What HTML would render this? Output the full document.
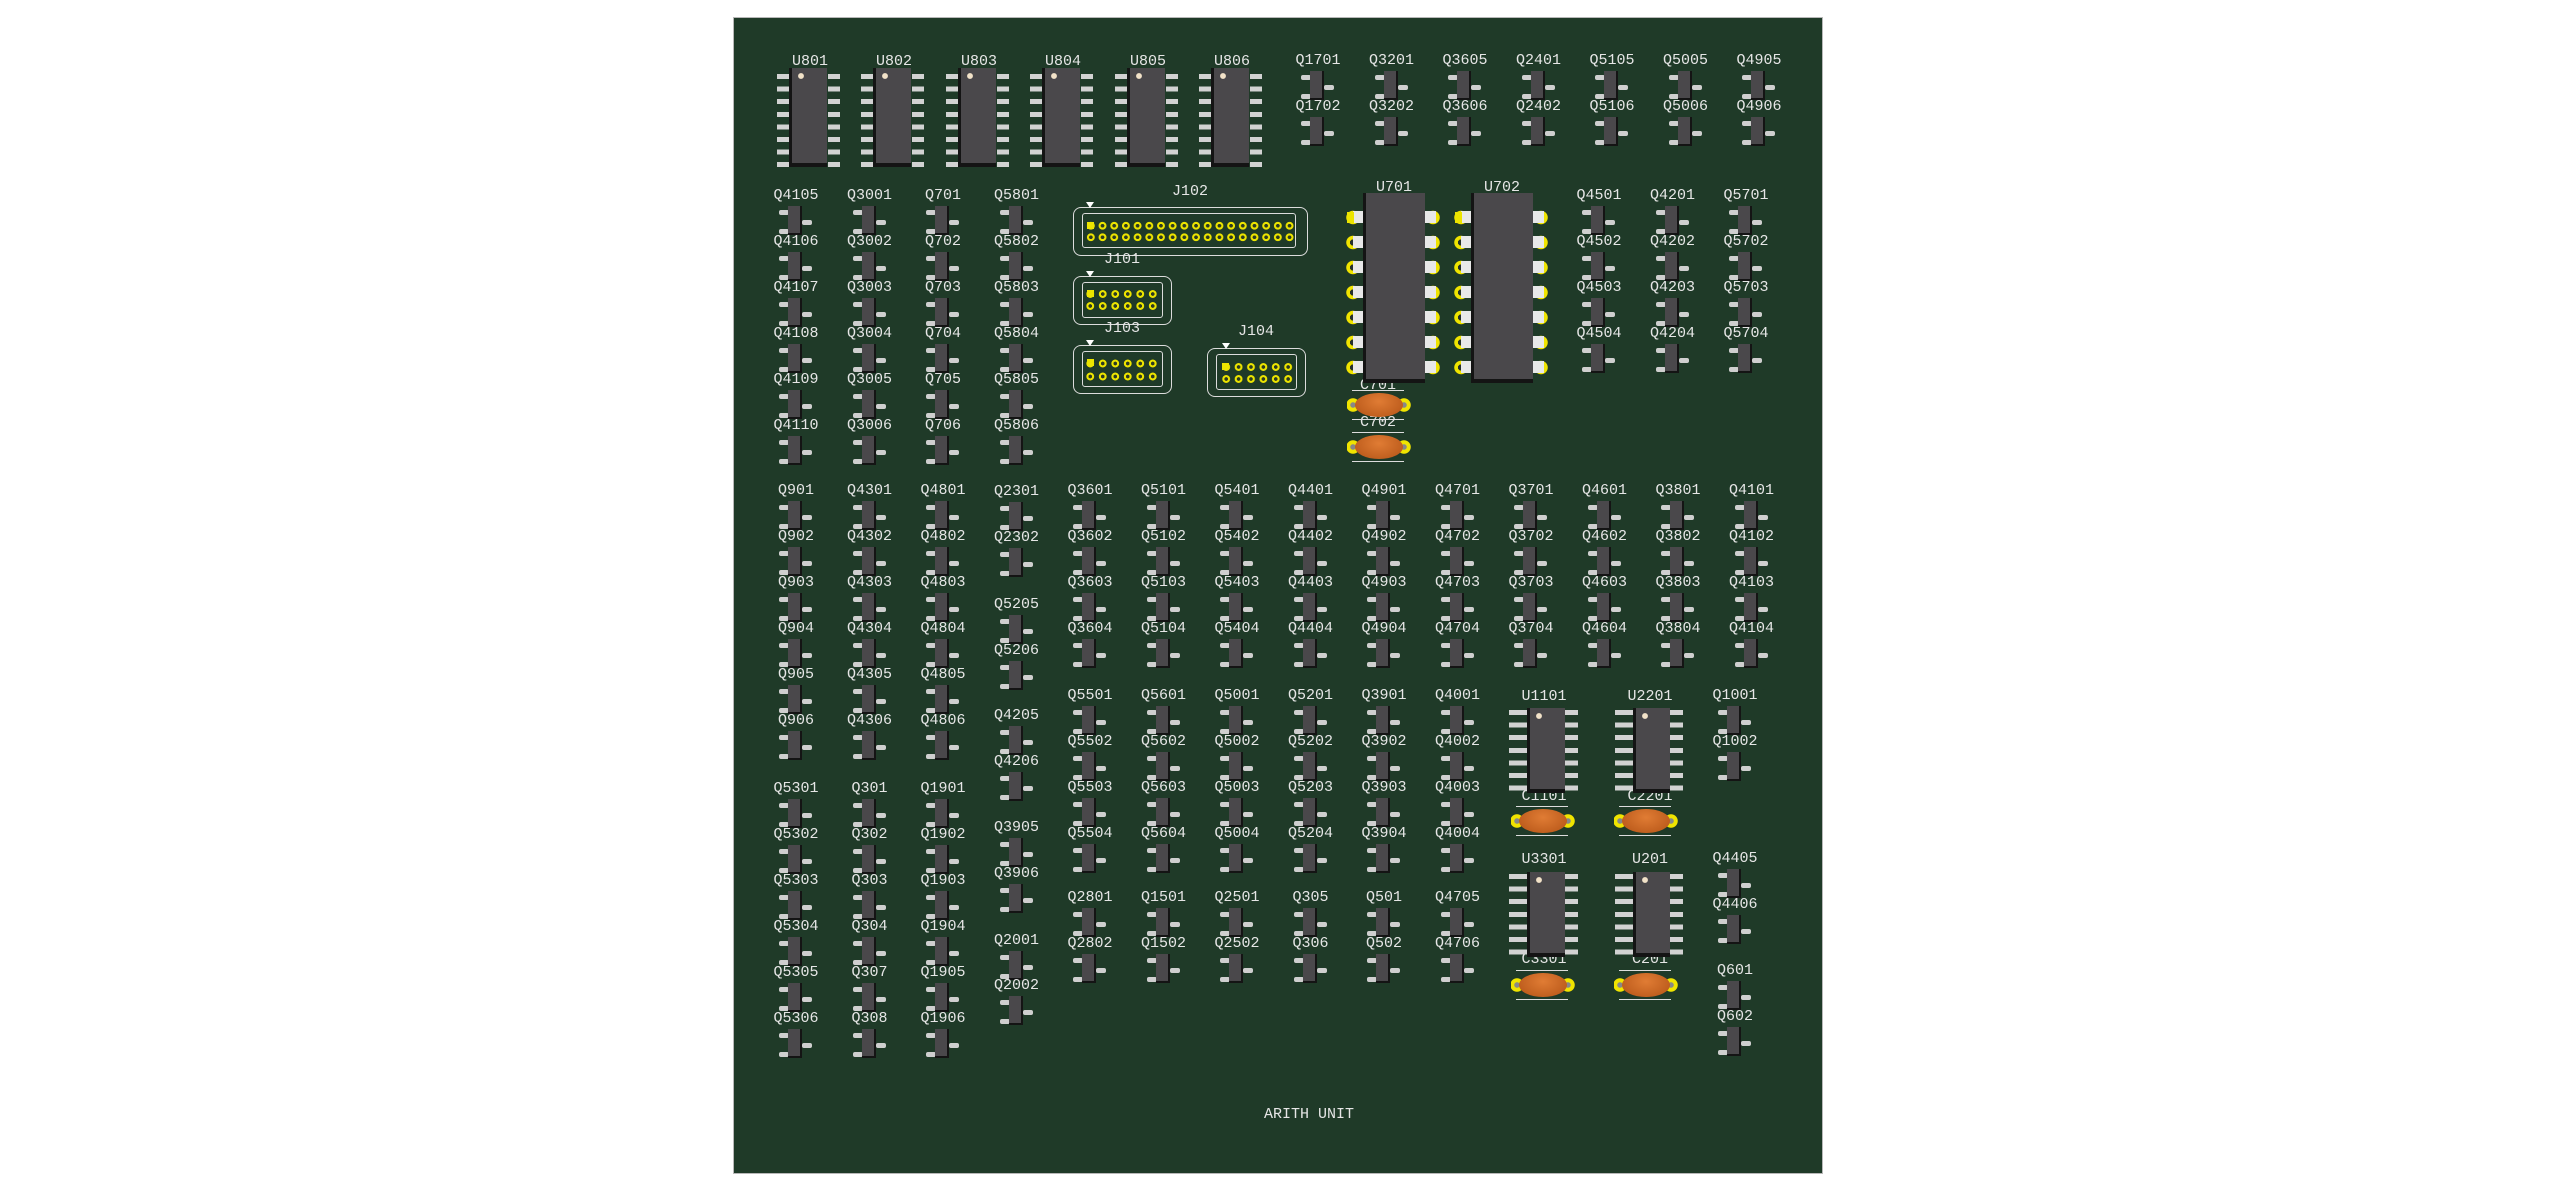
<!DOCTYPE html>
<html><head><meta charset="utf-8"><style>
html,body{margin:0;padding:0;background:#fff}
body{width:2556px;height:1194px;position:relative;overflow:hidden;font-family:"Liberation Mono",monospace}
#bd{position:absolute;left:733px;top:17px;width:1088px;height:1155px;background:#1f3a28;border:1px solid #b8b8b8}
.a{position:absolute}
.t{position:absolute;width:80px;text-align:center;font-size:15px;line-height:16px;color:#e6e6e6;white-space:nowrap}
.q{position:absolute;width:48px;height:50px;font-style:normal}
.q b{position:absolute;left:-6px;top:0;width:60px;text-align:center;font-weight:normal;font-size:15px;line-height:16px;color:#e6e6e6;white-space:nowrap;z-index:2}
.q::before{content:"";position:absolute;left:16px;top:18px;width:12px;height:27px;background:#4a484b;border-right:2px solid #141414;border-bottom:2px solid #141414;z-index:1}
.q::after{content:"";position:absolute;left:7px;top:22px;width:10px;height:5px;background:#cfcfcf;border-radius:2px;box-shadow:0 19px 0 #cfcfcf,23px 10px 0 #cfcfcf}
.ic{position:absolute;box-sizing:border-box;background:radial-gradient(circle at 9px 8px,#f2e2c8 0 2.6px,transparent 3.2px),#4a484b;border-left:3px solid #141414;border-bottom:4px solid #141414;z-index:3}
.pl,.pr{position:absolute;z-index:2;background:repeating-linear-gradient(to bottom,#d2d2d2 0 5px,transparent 5px 12.6px)}
.ring{position:absolute;z-index:2;background:radial-gradient(circle,#25302a 0 3px,#f0e400 3.2px 6.5px,transparent 7px) 0 0/14px 25px repeat-y}
.wp{position:absolute;z-index:2;background:repeating-linear-gradient(to bottom,#e8e8e8 0 12px,transparent 12px 25px)}
.pins{position:absolute;background:radial-gradient(circle,#2c3a22 0 1.7px,#ece400 2px 3.7px,transparent 4.1px)}
.co{position:absolute;border:1.5px solid #dcdcdc;border-radius:8px;box-sizing:border-box}
.ci{position:absolute;border:1.2px solid #dcdcdc;border-radius:3px;box-sizing:border-box}
.sq{position:absolute;width:7px;height:7px;background:#ece400}
.tri{position:absolute;width:0;height:0;border-left:4px solid transparent;border-right:4px solid transparent;border-top:6px solid #fff}
.cap{position:absolute;width:64px;height:26px;z-index:2;background:radial-gradient(circle at 6px 13px,#888 0 2.5px,#f0e400 3px 6.5px,transparent 7px),radial-gradient(circle at 57px 13px,#888 0 2.5px,#f0e400 3px 6.5px,transparent 7px)}
.cap::before{content:"";position:absolute;left:8px;top:1px;width:48px;height:24px;border-radius:50%;background:radial-gradient(ellipse at 50% 35%,#e07c34,#b35316);z-index:1}
.cap::after{content:"";position:absolute;left:5px;top:-2px;width:52px;height:28px;border-top:1px solid #ddd;border-bottom:1px solid #ddd}
</style></head><body>
<div id="bd"></div>

<!-- SOIC-16 U801-U806 -->
<div class="t" style="left:770px;top:54px">U801</div>
<div class="t" style="left:854px;top:54px">U802</div>
<div class="t" style="left:939px;top:54px">U803</div>
<div class="t" style="left:1023px;top:54px">U804</div>
<div class="t" style="left:1108px;top:54px">U805</div>
<div class="t" style="left:1192px;top:54px">U806</div>
<div class="ic" style="left:789px;top:68px;width:38px;height:99px"></div><div class="pl" style="left:777px;top:74px;width:12px;height:94px"></div><div class="pr" style="left:828px;top:74px;width:12px;height:94px"></div>
<div class="ic" style="left:873px;top:68px;width:38px;height:99px"></div><div class="pl" style="left:861px;top:74px;width:12px;height:94px"></div><div class="pr" style="left:912px;top:74px;width:12px;height:94px"></div>
<div class="ic" style="left:958px;top:68px;width:38px;height:99px"></div><div class="pl" style="left:946px;top:74px;width:12px;height:94px"></div><div class="pr" style="left:997px;top:74px;width:12px;height:94px"></div>
<div class="ic" style="left:1042px;top:68px;width:38px;height:99px"></div><div class="pl" style="left:1030px;top:74px;width:12px;height:94px"></div><div class="pr" style="left:1081px;top:74px;width:12px;height:94px"></div>
<div class="ic" style="left:1127px;top:68px;width:38px;height:99px"></div><div class="pl" style="left:1115px;top:74px;width:12px;height:94px"></div><div class="pr" style="left:1166px;top:74px;width:12px;height:94px"></div>
<div class="ic" style="left:1211px;top:68px;width:38px;height:99px"></div><div class="pl" style="left:1199px;top:74px;width:12px;height:94px"></div><div class="pr" style="left:1250px;top:74px;width:12px;height:94px"></div>

<!-- Connectors -->
<div class="t" style="left:1150px;top:184px">J102</div>
<div class="co" style="left:1073px;top:207px;width:235px;height:49px"></div>
<div class="ci" style="left:1082px;top:213px;width:214px;height:35px"></div>
<div class="tri" style="left:1086px;top:202px"></div>
<div class="pins" style="left:1085px;top:220px;width:211px;height:23px;background-size:11.7px 11.5px"></div>
<div class="sq" style="left:1087px;top:222px"></div>

<div class="t" style="left:1082px;top:252px">J101</div>
<div class="co" style="left:1073px;top:276px;width:99px;height:49px"></div>
<div class="ci" style="left:1082px;top:282px;width:81px;height:36px"></div>
<div class="tri" style="left:1086px;top:271px"></div>
<div class="pins" style="left:1084px;top:288px;width:75px;height:24px;background-size:12.5px 12px"></div>
<div class="sq" style="left:1087px;top:290px"></div>

<div class="t" style="left:1082px;top:321px">J103</div>
<div class="co" style="left:1073px;top:345px;width:99px;height:49px"></div>
<div class="ci" style="left:1082px;top:351px;width:81px;height:36px"></div>
<div class="tri" style="left:1086px;top:340px"></div>
<div class="pins" style="left:1084px;top:357px;width:75px;height:26px;background-size:12.5px 13px"></div>
<div class="sq" style="left:1087px;top:359px"></div>

<div class="t" style="left:1216px;top:324px">J104</div>
<div class="co" style="left:1207px;top:348px;width:99px;height:49px"></div>
<div class="ci" style="left:1216px;top:354px;width:81px;height:36px"></div>
<div class="tri" style="left:1222px;top:343px"></div>
<div class="pins" style="left:1220px;top:361px;width:75px;height:24px;background-size:12.4px 12px"></div>
<div class="sq" style="left:1222px;top:363px"></div>

<!-- DIP U701 U702 -->
<div class="t" style="left:1354px;top:180px">U701</div>
<div class="t" style="left:1462px;top:180px">U702</div>
<div class="ring" style="left:1346px;top:205px;width:14px;height:175px"></div>
<div class="ring" style="left:1426px;top:205px;width:14px;height:175px"></div>
<div class="wp" style="left:1353px;top:211px;width:11px;height:165px"></div>
<div class="wp" style="left:1425px;top:211px;width:11px;height:165px"></div>
<div class="ic" style="left:1363px;top:193px;width:62px;height:190px;background:#4a484b"></div>
<div class="sq" style="left:1347px;top:212px;width:7px;height:11px;z-index:2"></div>
<div class="ring" style="left:1454px;top:205px;width:14px;height:175px"></div>
<div class="ring" style="left:1534px;top:205px;width:14px;height:175px"></div>
<div class="wp" style="left:1461px;top:211px;width:11px;height:165px"></div>
<div class="wp" style="left:1533px;top:211px;width:11px;height:165px"></div>
<div class="ic" style="left:1471px;top:193px;width:62px;height:190px;background:#4a484b"></div>
<div class="sq" style="left:1455px;top:212px;width:7px;height:11px;z-index:2"></div>
<div class="t" style="left:1338px;top:378px">C701</div>
<div class="cap" style="left:1347px;top:392px"></div>
<div class="t" style="left:1338px;top:415px">C702</div>
<div class="cap" style="left:1347px;top:434px"></div>

<!-- SOIC-14 -->
<div class="t" style="left:1504px;top:689px">U1101</div>
<div class="t" style="left:1610px;top:689px">U2201</div>
<div class="t" style="left:1504px;top:852px">U3301</div>
<div class="t" style="left:1610px;top:852px">U201</div>
<div class="t" style="left:1504px;top:789px">C1101</div>
<div class="t" style="left:1610px;top:789px">C2201</div>
<div class="t" style="left:1504px;top:952px">C3301</div>
<div class="t" style="left:1610px;top:952px">C201</div>
<div class="ic" style="left:1527px;top:708px;width:38px;height:85px"></div><div class="pl" style="left:1509px;top:710px;width:18px;height:82px"></div><div class="pr" style="left:1565px;top:710px;width:13px;height:82px"></div>
<div class="ic" style="left:1633px;top:708px;width:37px;height:85px"></div><div class="pl" style="left:1615px;top:710px;width:18px;height:82px"></div><div class="pr" style="left:1670px;top:710px;width:13px;height:82px"></div>
<div class="ic" style="left:1527px;top:872px;width:38px;height:85px"></div><div class="pl" style="left:1509px;top:874px;width:18px;height:82px"></div><div class="pr" style="left:1565px;top:874px;width:13px;height:82px"></div>
<div class="ic" style="left:1633px;top:872px;width:37px;height:85px"></div><div class="pl" style="left:1615px;top:874px;width:18px;height:82px"></div><div class="pr" style="left:1670px;top:874px;width:13px;height:82px"></div>
<div class="cap" style="left:1511px;top:808px"></div>
<div class="cap" style="left:1614px;top:808px"></div>
<div class="cap" style="left:1511px;top:972px"></div>
<div class="cap" style="left:1614px;top:972px"></div>

<div class="t" style="left:1264px;top:1107px">ARITH UNIT</div>

<!-- top small transistors -->
<i class=q style=left:1294px;top:53px><b>Q1701</b></i><i class=q style=left:1294px;top:99px><b>Q1702</b></i>
<i class=q style=left:1367.5px;top:53px><b>Q3201</b></i><i class=q style=left:1367.5px;top:99px><b>Q3202</b></i>
<i class=q style=left:1441px;top:53px><b>Q3605</b></i><i class=q style=left:1441px;top:99px><b>Q3606</b></i>
<i class=q style=left:1514.5px;top:53px><b>Q2401</b></i><i class=q style=left:1514.5px;top:99px><b>Q2402</b></i>
<i class=q style=left:1588px;top:53px><b>Q5105</b></i><i class=q style=left:1588px;top:99px><b>Q5106</b></i>
<i class=q style=left:1661.5px;top:53px><b>Q5005</b></i><i class=q style=left:1661.5px;top:99px><b>Q5006</b></i>
<i class=q style=left:1735px;top:53px><b>Q4905</b></i><i class=q style=left:1735px;top:99px><b>Q4906</b></i>

<!-- left block -->
<i class=q style=left:772px;top:188px><b>Q4105</b></i><i class=q style=left:772px;top:234px><b>Q4106</b></i><i class=q style=left:772px;top:280px><b>Q4107</b></i><i class=q style=left:772px;top:326px><b>Q4108</b></i><i class=q style=left:772px;top:372px><b>Q4109</b></i><i class=q style=left:772px;top:418px><b>Q4110</b></i>
<i class=q style=left:845.5px;top:188px><b>Q3001</b></i><i class=q style=left:845.5px;top:234px><b>Q3002</b></i><i class=q style=left:845.5px;top:280px><b>Q3003</b></i><i class=q style=left:845.5px;top:326px><b>Q3004</b></i><i class=q style=left:845.5px;top:372px><b>Q3005</b></i><i class=q style=left:845.5px;top:418px><b>Q3006</b></i>
<i class=q style=left:919px;top:188px><b>Q701</b></i><i class=q style=left:919px;top:234px><b>Q702</b></i><i class=q style=left:919px;top:280px><b>Q703</b></i><i class=q style=left:919px;top:326px><b>Q704</b></i><i class=q style=left:919px;top:372px><b>Q705</b></i><i class=q style=left:919px;top:418px><b>Q706</b></i>
<i class=q style=left:992.5px;top:188px><b>Q5801</b></i><i class=q style=left:992.5px;top:234px><b>Q5802</b></i><i class=q style=left:992.5px;top:280px><b>Q5803</b></i><i class=q style=left:992.5px;top:326px><b>Q5804</b></i><i class=q style=left:992.5px;top:372px><b>Q5805</b></i><i class=q style=left:992.5px;top:418px><b>Q5806</b></i>

<!-- right top -->
<i class=q style=left:1575px;top:188px><b>Q4501</b></i><i class=q style=left:1575px;top:234px><b>Q4502</b></i><i class=q style=left:1575px;top:280px><b>Q4503</b></i><i class=q style=left:1575px;top:326px><b>Q4504</b></i>
<i class=q style=left:1648.5px;top:188px><b>Q4201</b></i><i class=q style=left:1648.5px;top:234px><b>Q4202</b></i><i class=q style=left:1648.5px;top:280px><b>Q4203</b></i><i class=q style=left:1648.5px;top:326px><b>Q4204</b></i>
<i class=q style=left:1722px;top:188px><b>Q5701</b></i><i class=q style=left:1722px;top:234px><b>Q5702</b></i><i class=q style=left:1722px;top:280px><b>Q5703</b></i><i class=q style=left:1722px;top:326px><b>Q5704</b></i>

<!-- middle left cols 0-2 -->
<i class=q style=left:772px;top:483px><b>Q901</b></i><i class=q style=left:772px;top:529px><b>Q902</b></i><i class=q style=left:772px;top:575px><b>Q903</b></i><i class=q style=left:772px;top:621px><b>Q904</b></i><i class=q style=left:772px;top:667px><b>Q905</b></i><i class=q style=left:772px;top:713px><b>Q906</b></i>
<i class=q style=left:845.5px;top:483px><b>Q4301</b></i><i class=q style=left:845.5px;top:529px><b>Q4302</b></i><i class=q style=left:845.5px;top:575px><b>Q4303</b></i><i class=q style=left:845.5px;top:621px><b>Q4304</b></i><i class=q style=left:845.5px;top:667px><b>Q4305</b></i><i class=q style=left:845.5px;top:713px><b>Q4306</b></i>
<i class=q style=left:919px;top:483px><b>Q4801</b></i><i class=q style=left:919px;top:529px><b>Q4802</b></i><i class=q style=left:919px;top:575px><b>Q4803</b></i><i class=q style=left:919px;top:621px><b>Q4804</b></i><i class=q style=left:919px;top:667px><b>Q4805</b></i><i class=q style=left:919px;top:713px><b>Q4806</b></i>

<!-- col 3 -->
<i class=q style=left:992.5px;top:484px><b>Q2301</b></i><i class=q style=left:992.5px;top:530px><b>Q2302</b></i>
<i class=q style=left:992.5px;top:597px><b>Q5205</b></i><i class=q style=left:992.5px;top:643px><b>Q5206</b></i>
<i class=q style=left:992.5px;top:708px><b>Q4205</b></i><i class=q style=left:992.5px;top:754px><b>Q4206</b></i>
<i class=q style=left:992.5px;top:820px><b>Q3905</b></i><i class=q style=left:992.5px;top:866px><b>Q3906</b></i>
<i class=q style=left:992.5px;top:933px><b>Q2001</b></i><i class=q style=left:992.5px;top:978px><b>Q2002</b></i>

<!-- cols 4-13 rows 0-3 -->
<i class=q style=left:1066px;top:483px><b>Q3601</b></i><i class=q style=left:1066px;top:529px><b>Q3602</b></i><i class=q style=left:1066px;top:575px><b>Q3603</b></i><i class=q style=left:1066px;top:621px><b>Q3604</b></i>
<i class=q style=left:1139.5px;top:483px><b>Q5101</b></i><i class=q style=left:1139.5px;top:529px><b>Q5102</b></i><i class=q style=left:1139.5px;top:575px><b>Q5103</b></i><i class=q style=left:1139.5px;top:621px><b>Q5104</b></i>
<i class=q style=left:1213px;top:483px><b>Q5401</b></i><i class=q style=left:1213px;top:529px><b>Q5402</b></i><i class=q style=left:1213px;top:575px><b>Q5403</b></i><i class=q style=left:1213px;top:621px><b>Q5404</b></i>
<i class=q style=left:1286.5px;top:483px><b>Q4401</b></i><i class=q style=left:1286.5px;top:529px><b>Q4402</b></i><i class=q style=left:1286.5px;top:575px><b>Q4403</b></i><i class=q style=left:1286.5px;top:621px><b>Q4404</b></i>
<i class=q style=left:1360px;top:483px><b>Q4901</b></i><i class=q style=left:1360px;top:529px><b>Q4902</b></i><i class=q style=left:1360px;top:575px><b>Q4903</b></i><i class=q style=left:1360px;top:621px><b>Q4904</b></i>
<i class=q style=left:1433.5px;top:483px><b>Q4701</b></i><i class=q style=left:1433.5px;top:529px><b>Q4702</b></i><i class=q style=left:1433.5px;top:575px><b>Q4703</b></i><i class=q style=left:1433.5px;top:621px><b>Q4704</b></i>
<i class=q style=left:1507px;top:483px><b>Q3701</b></i><i class=q style=left:1507px;top:529px><b>Q3702</b></i><i class=q style=left:1507px;top:575px><b>Q3703</b></i><i class=q style=left:1507px;top:621px><b>Q3704</b></i>
<i class=q style=left:1580.5px;top:483px><b>Q4601</b></i><i class=q style=left:1580.5px;top:529px><b>Q4602</b></i><i class=q style=left:1580.5px;top:575px><b>Q4603</b></i><i class=q style=left:1580.5px;top:621px><b>Q4604</b></i>
<i class=q style=left:1654px;top:483px><b>Q3801</b></i><i class=q style=left:1654px;top:529px><b>Q3802</b></i><i class=q style=left:1654px;top:575px><b>Q3803</b></i><i class=q style=left:1654px;top:621px><b>Q3804</b></i>
<i class=q style=left:1727.5px;top:483px><b>Q4101</b></i><i class=q style=left:1727.5px;top:529px><b>Q4102</b></i><i class=q style=left:1727.5px;top:575px><b>Q4103</b></i><i class=q style=left:1727.5px;top:621px><b>Q4104</b></i>

<!-- group 2 -->
<i class=q style=left:1066px;top:688px><b>Q5501</b></i><i class=q style=left:1066px;top:734px><b>Q5502</b></i><i class=q style=left:1066px;top:780px><b>Q5503</b></i><i class=q style=left:1066px;top:826px><b>Q5504</b></i>
<i class=q style=left:1139.5px;top:688px><b>Q5601</b></i><i class=q style=left:1139.5px;top:734px><b>Q5602</b></i><i class=q style=left:1139.5px;top:780px><b>Q5603</b></i><i class=q style=left:1139.5px;top:826px><b>Q5604</b></i>
<i class=q style=left:1213px;top:688px><b>Q5001</b></i><i class=q style=left:1213px;top:734px><b>Q5002</b></i><i class=q style=left:1213px;top:780px><b>Q5003</b></i><i class=q style=left:1213px;top:826px><b>Q5004</b></i>
<i class=q style=left:1286.5px;top:688px><b>Q5201</b></i><i class=q style=left:1286.5px;top:734px><b>Q5202</b></i><i class=q style=left:1286.5px;top:780px><b>Q5203</b></i><i class=q style=left:1286.5px;top:826px><b>Q5204</b></i>
<i class=q style=left:1360px;top:688px><b>Q3901</b></i><i class=q style=left:1360px;top:734px><b>Q3902</b></i><i class=q style=left:1360px;top:780px><b>Q3903</b></i><i class=q style=left:1360px;top:826px><b>Q3904</b></i>
<i class=q style=left:1433.5px;top:688px><b>Q4001</b></i><i class=q style=left:1433.5px;top:734px><b>Q4002</b></i><i class=q style=left:1433.5px;top:780px><b>Q4003</b></i><i class=q style=left:1433.5px;top:826px><b>Q4004</b></i>

<!-- group 3 -->
<i class=q style=left:1066px;top:890px><b>Q2801</b></i><i class=q style=left:1066px;top:936px><b>Q2802</b></i>
<i class=q style=left:1139.5px;top:890px><b>Q1501</b></i><i class=q style=left:1139.5px;top:936px><b>Q1502</b></i>
<i class=q style=left:1213px;top:890px><b>Q2501</b></i><i class=q style=left:1213px;top:936px><b>Q2502</b></i>
<i class=q style=left:1286.5px;top:890px><b>Q305</b></i><i class=q style=left:1286.5px;top:936px><b>Q306</b></i>
<i class=q style=left:1360px;top:890px><b>Q501</b></i><i class=q style=left:1360px;top:936px><b>Q502</b></i>
<i class=q style=left:1433.5px;top:890px><b>Q4705</b></i><i class=q style=left:1433.5px;top:936px><b>Q4706</b></i>

<!-- right column -->
<i class=q style=left:1711px;top:688px><b>Q1001</b></i><i class=q style=left:1711px;top:734px><b>Q1002</b></i>
<i class=q style=left:1711px;top:851px><b>Q4405</b></i><i class=q style=left:1711px;top:897px><b>Q4406</b></i>
<i class=q style=left:1711px;top:963px><b>Q601</b></i><i class=q style=left:1711px;top:1009px><b>Q602</b></i>

<!-- lower left -->
<i class=q style=left:772px;top:781px><b>Q5301</b></i><i class=q style=left:772px;top:827px><b>Q5302</b></i><i class=q style=left:772px;top:873px><b>Q5303</b></i><i class=q style=left:772px;top:919px><b>Q5304</b></i><i class=q style=left:772px;top:965px><b>Q5305</b></i><i class=q style=left:772px;top:1011px><b>Q5306</b></i>
<i class=q style=left:845.5px;top:781px><b>Q301</b></i><i class=q style=left:845.5px;top:827px><b>Q302</b></i><i class=q style=left:845.5px;top:873px><b>Q303</b></i><i class=q style=left:845.5px;top:919px><b>Q304</b></i><i class=q style=left:845.5px;top:965px><b>Q307</b></i><i class=q style=left:845.5px;top:1011px><b>Q308</b></i>
<i class=q style=left:919px;top:781px><b>Q1901</b></i><i class=q style=left:919px;top:827px><b>Q1902</b></i><i class=q style=left:919px;top:873px><b>Q1903</b></i><i class=q style=left:919px;top:919px><b>Q1904</b></i><i class=q style=left:919px;top:965px><b>Q1905</b></i><i class=q style=left:919px;top:1011px><b>Q1906</b></i>
</body></html>
